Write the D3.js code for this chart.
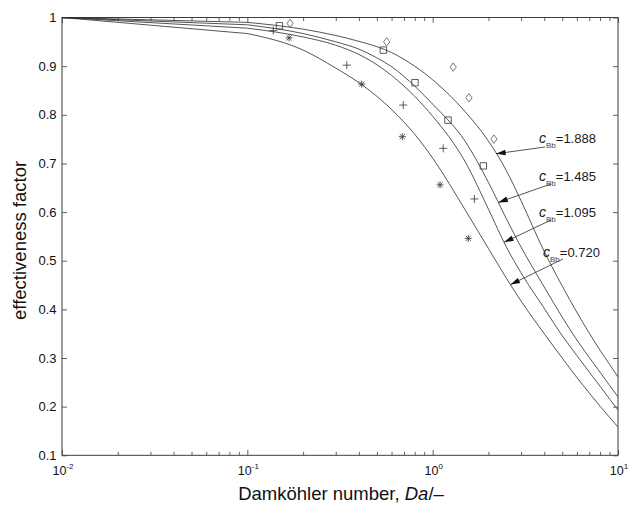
<!DOCTYPE html>
<html>
<head>
<meta charset="utf-8">
<script src="https://cdn.jsdelivr.net/npm/d3@7"></script>
<style>
  body { margin: 0; background: #fff; }
  svg { display: block; }
  text { font-family: "Liberation Sans", Arial, sans-serif; }
</style>
</head>
<body>
<svg id="chart" width="637" height="506"></svg>
<script>
// Damköhler numbers at which the model curves were evaluated
const daGrid = [0.01, 0.1, 0.2, 0.3, 0.4, 0.5, 0.6, 0.7, 0.8, 0.9, 1, 1.5, 2, 2.5, 3, 4, 5, 6, 7, 8, 9, 10];

// model effectiveness factor for each bulk concentration c_Bb
const eta1888 = [1.000, 0.990, 0.976, 0.963, 0.951, 0.940, 0.928, 0.914, 0.900, 0.886, 0.872, 0.806, 0.746, 0.685, 0.623, 0.519, 0.448, 0.394, 0.351, 0.316, 0.287, 0.261];
const eta1485 = [1.000, 0.985, 0.967, 0.950, 0.935, 0.917, 0.899, 0.879, 0.859, 0.840, 0.822, 0.745, 0.661, 0.586, 0.528, 0.446, 0.384, 0.337, 0.301, 0.271, 0.244, 0.220];
const eta1095 = [1.000, 0.978, 0.960, 0.943, 0.924, 0.903, 0.881, 0.859, 0.838, 0.817, 0.797, 0.703, 0.606, 0.528, 0.475, 0.402, 0.346, 0.305, 0.271, 0.242, 0.216, 0.193];
const eta0720 = [1.000, 0.967, 0.933, 0.896, 0.866, 0.838, 0.811, 0.785, 0.760, 0.735, 0.711, 0.604, 0.525, 0.464, 0.417, 0.350, 0.300, 0.260, 0.228, 0.201, 0.178, 0.158];

// experimental points
const daDiamond  = [0.170, 0.565, 1.29, 1.57, 2.14];
const etaDiamond = [0.988, 0.950, 0.898, 0.835, 0.750];
const daSquare   = [0.149, 0.542, 0.803, 1.21, 1.877];
const etaSquare  = [0.983, 0.933, 0.866, 0.789, 0.695];
const daPlus     = [0.138, 0.344, 0.694, 1.14, 1.68];
const etaPlus    = [0.973, 0.902, 0.820, 0.731, 0.627];
const daStar     = [0.168, 0.414, 0.686, 1.096, 1.557];
const etaStar    = [0.958, 0.863, 0.755, 0.656, 0.546];

// curve annotations
const cbbLabels  = ["1.888", "1.485", "1.095", "0.720"];
const arrowTipDa = [2.20, 2.26, 2.43, 2.63];

// axis ticks
const xMajor = [0.01, 0.1, 1, 10];
const xExponents = ["-2", "-1", "0", "1"];
const yTicks = [0.1, 0.2, 0.3, 0.4, 0.5, 0.6, 0.7, 0.8, 0.9, 1];

const svg = d3.select("#chart");
const m = { left: 62, right: 618, top: 17.5, bottom: 455.3 };
const x = d3.scaleLog().domain([0.01, 10]).range([m.left, m.right]);
const y = d3.scaleLinear().domain([0.1, 1]).range([m.bottom, m.top]);
const axisColor = "#3c3c3c";
const inkColor = "#2a2a2a";

const xMinor = [];
[0.01, 0.1, 1].forEach(dec => { for (let k = 2; k <= 9; k++) xMinor.push(dec * k); });

svg.append("defs").append("clipPath").attr("id", "plotArea")
  .append("rect").attr("x", m.left).attr("y", m.top)
  .attr("width", m.right - m.left).attr("height", m.bottom - m.top);

// ---- ticks (pointing inward on all four sides) ----
function ticks(gen, values, size, transform) {
  const g = svg.append("g").attr("transform", transform).style("color", axisColor);
  g.call(gen.tickValues(values).tickSize(-size).tickFormat(""));
  g.select(".domain").remove();
  g.selectAll(".tick line").attr("stroke-width", 0.8);
  return g;
}
ticks(d3.axisBottom(x), xMinor, 3.5, `translate(0,${m.bottom})`);
ticks(d3.axisBottom(x), xMajor, 5.5, `translate(0,${m.bottom})`);
ticks(d3.axisTop(x), xMinor, 3.5, `translate(0,${m.top})`);
ticks(d3.axisTop(x), xMajor, 5.5, `translate(0,${m.top})`);
ticks(d3.axisLeft(y), yTicks, 5, `translate(${m.left},0)`);
ticks(d3.axisRight(y), yTicks, 5, `translate(${m.right},0)`);

// frame
svg.append("rect")
  .attr("x", m.left).attr("y", m.top)
  .attr("width", m.right - m.left).attr("height", m.bottom - m.top)
  .attr("fill", "none").attr("stroke", axisColor).attr("stroke-width", 1);

// y tick labels
svg.append("g").selectAll("text").data(yTicks).join("text")
  .attr("x", m.left - 5.5).attr("y", d => y(d)).attr("dy", "0.36em")
  .attr("text-anchor", "end").attr("font-size", 13).attr("fill", "#111")
  .text(d => d === 1 ? "1" : d.toFixed(1));

// x tick labels: 10 with superscript exponent
const xl = svg.append("g").selectAll("text").data(xMajor).join("text")
  .attr("x", d => x(d) + 1).attr("y", 475)
  .attr("text-anchor", "middle").attr("fill", "#111");
xl.append("tspan").attr("font-size", 12.5).text("10");
xl.append("tspan").attr("font-size", 8).attr("dy", -6).text((d, i) => xExponents[i]);

// axis titles
const xt = svg.append("text").attr("x", 341).attr("y", 500)
  .attr("text-anchor", "middle").attr("font-size", 18.5).attr("fill", "#111");
xt.append("tspan").text("Damköhler number, ");
xt.append("tspan").attr("font-style", "italic").text("Da");
xt.append("tspan").text("/–");

svg.append("text")
  .attr("transform", `translate(26,${(m.top + m.bottom) / 2 + 4}) rotate(-90)`)
  .attr("text-anchor", "middle").attr("font-size", 18.5).attr("fill", "#111")
  .text("effectiveness factor");

// ---- model curves: straight from 0.01 to 0.1, smooth beyond ----
const series = [eta1888, eta1485, eta1095, eta0720];
const straight = d3.line().x(d => x(d[0])).y(d => y(d[1]));
const smooth = d3.line().x(d => x(d[0])).y(d => y(d[1])).curve(d3.curveMonotoneX);
const curves = svg.append("g").attr("clip-path", "url(#plotArea)");
series.forEach(s => {
  const pts = daGrid.map((d, i) => [d, s[i]]);
  curves.append("path").attr("d", straight(pts.slice(0, 2)) + smooth(pts.slice(1)).replace(/^M[^LC]*/, ""))
    .attr("fill", "none").attr("stroke", inkColor).attr("stroke-width", 0.8);
});

// ---- experimental markers ----
const shapes = {
  diamond: "M0,-4.2L3.1,0L0,4.2L-3.1,0Z",
  square: "M-3.2,-3.2H3.2V3.2H-3.2Z",
  plus: "M-4,0H4M0,-4V4",
  star: "M-3.6,0H3.6M0,-3.6V3.6M-2.6,-2.6L2.6,2.6M-2.6,2.6L2.6,-2.6"
};
function markers(das, etas, shape, color) {
  svg.append("g").selectAll("path").data(das).join("path")
    .attr("transform", (d, i) => `translate(${x(d)},${y(etas[i])})`)
    .attr("d", shapes[shape])
    .attr("fill", "none").attr("stroke", color).attr("stroke-width", 0.8);
}
markers(daDiamond, etaDiamond, "diamond", "#555");
markers(daSquare, etaSquare, "square", "#333");
markers(daPlus, etaPlus, "plus", "#333");
markers(daStar, etaStar, "star", "#333");

// ---- annotations with arrows pointing to each curve ----
function etaAt(s, da) {
  const L = Math.log10(da);
  for (let i = 0; i < daGrid.length - 1; i++) {
    const a = Math.log10(daGrid[i]), b = Math.log10(daGrid[i + 1]);
    if (L >= a && L <= b) return s[i] + (s[i + 1] - s[i]) * (L - a) / (b - a);
  }
  return s[s.length - 1];
}
const labelPos = [[539, 143], [539, 181], [539, 217], [543, 257]];
const arrowStart = [[545, 147], [551, 184], [551, 220], [563, 259]];

cbbLabels.forEach((lab, i) => {
  const tx = x(arrowTipDa[i]), ty = y(etaAt(series[i], arrowTipDa[i]));
  const [sx, sy] = arrowStart[i];
  svg.append("line").attr("x1", sx).attr("y1", sy).attr("x2", tx).attr("y2", ty)
    .attr("stroke", inkColor).attr("stroke-width", 0.8);
  const ang = Math.atan2(ty - sy, tx - sx);
  const len = 9.5, hw = 2.8;
  const bx = tx - len * Math.cos(ang), by = ty - len * Math.sin(ang);
  const px = -Math.sin(ang) * hw, py = Math.cos(ang) * hw;
  svg.append("path")
    .attr("d", `M${tx},${ty}L${bx + px},${by + py}L${bx - px},${by - py}Z`)
    .attr("fill", "#111");

  const t = svg.append("text").attr("x", labelPos[i][0]).attr("y", labelPos[i][1])
    .attr("font-size", 13).attr("fill", "#1a1a1a");
  t.append("tspan").attr("font-style", "italic").attr("font-size", 14).text("c");
  t.append("tspan").attr("font-size", 8).attr("fill", "#444").attr("dy", 5).text("Bb");
  t.append("tspan").attr("dy", -5).text("=" + lab);
});
</script>
</body>
</html>
